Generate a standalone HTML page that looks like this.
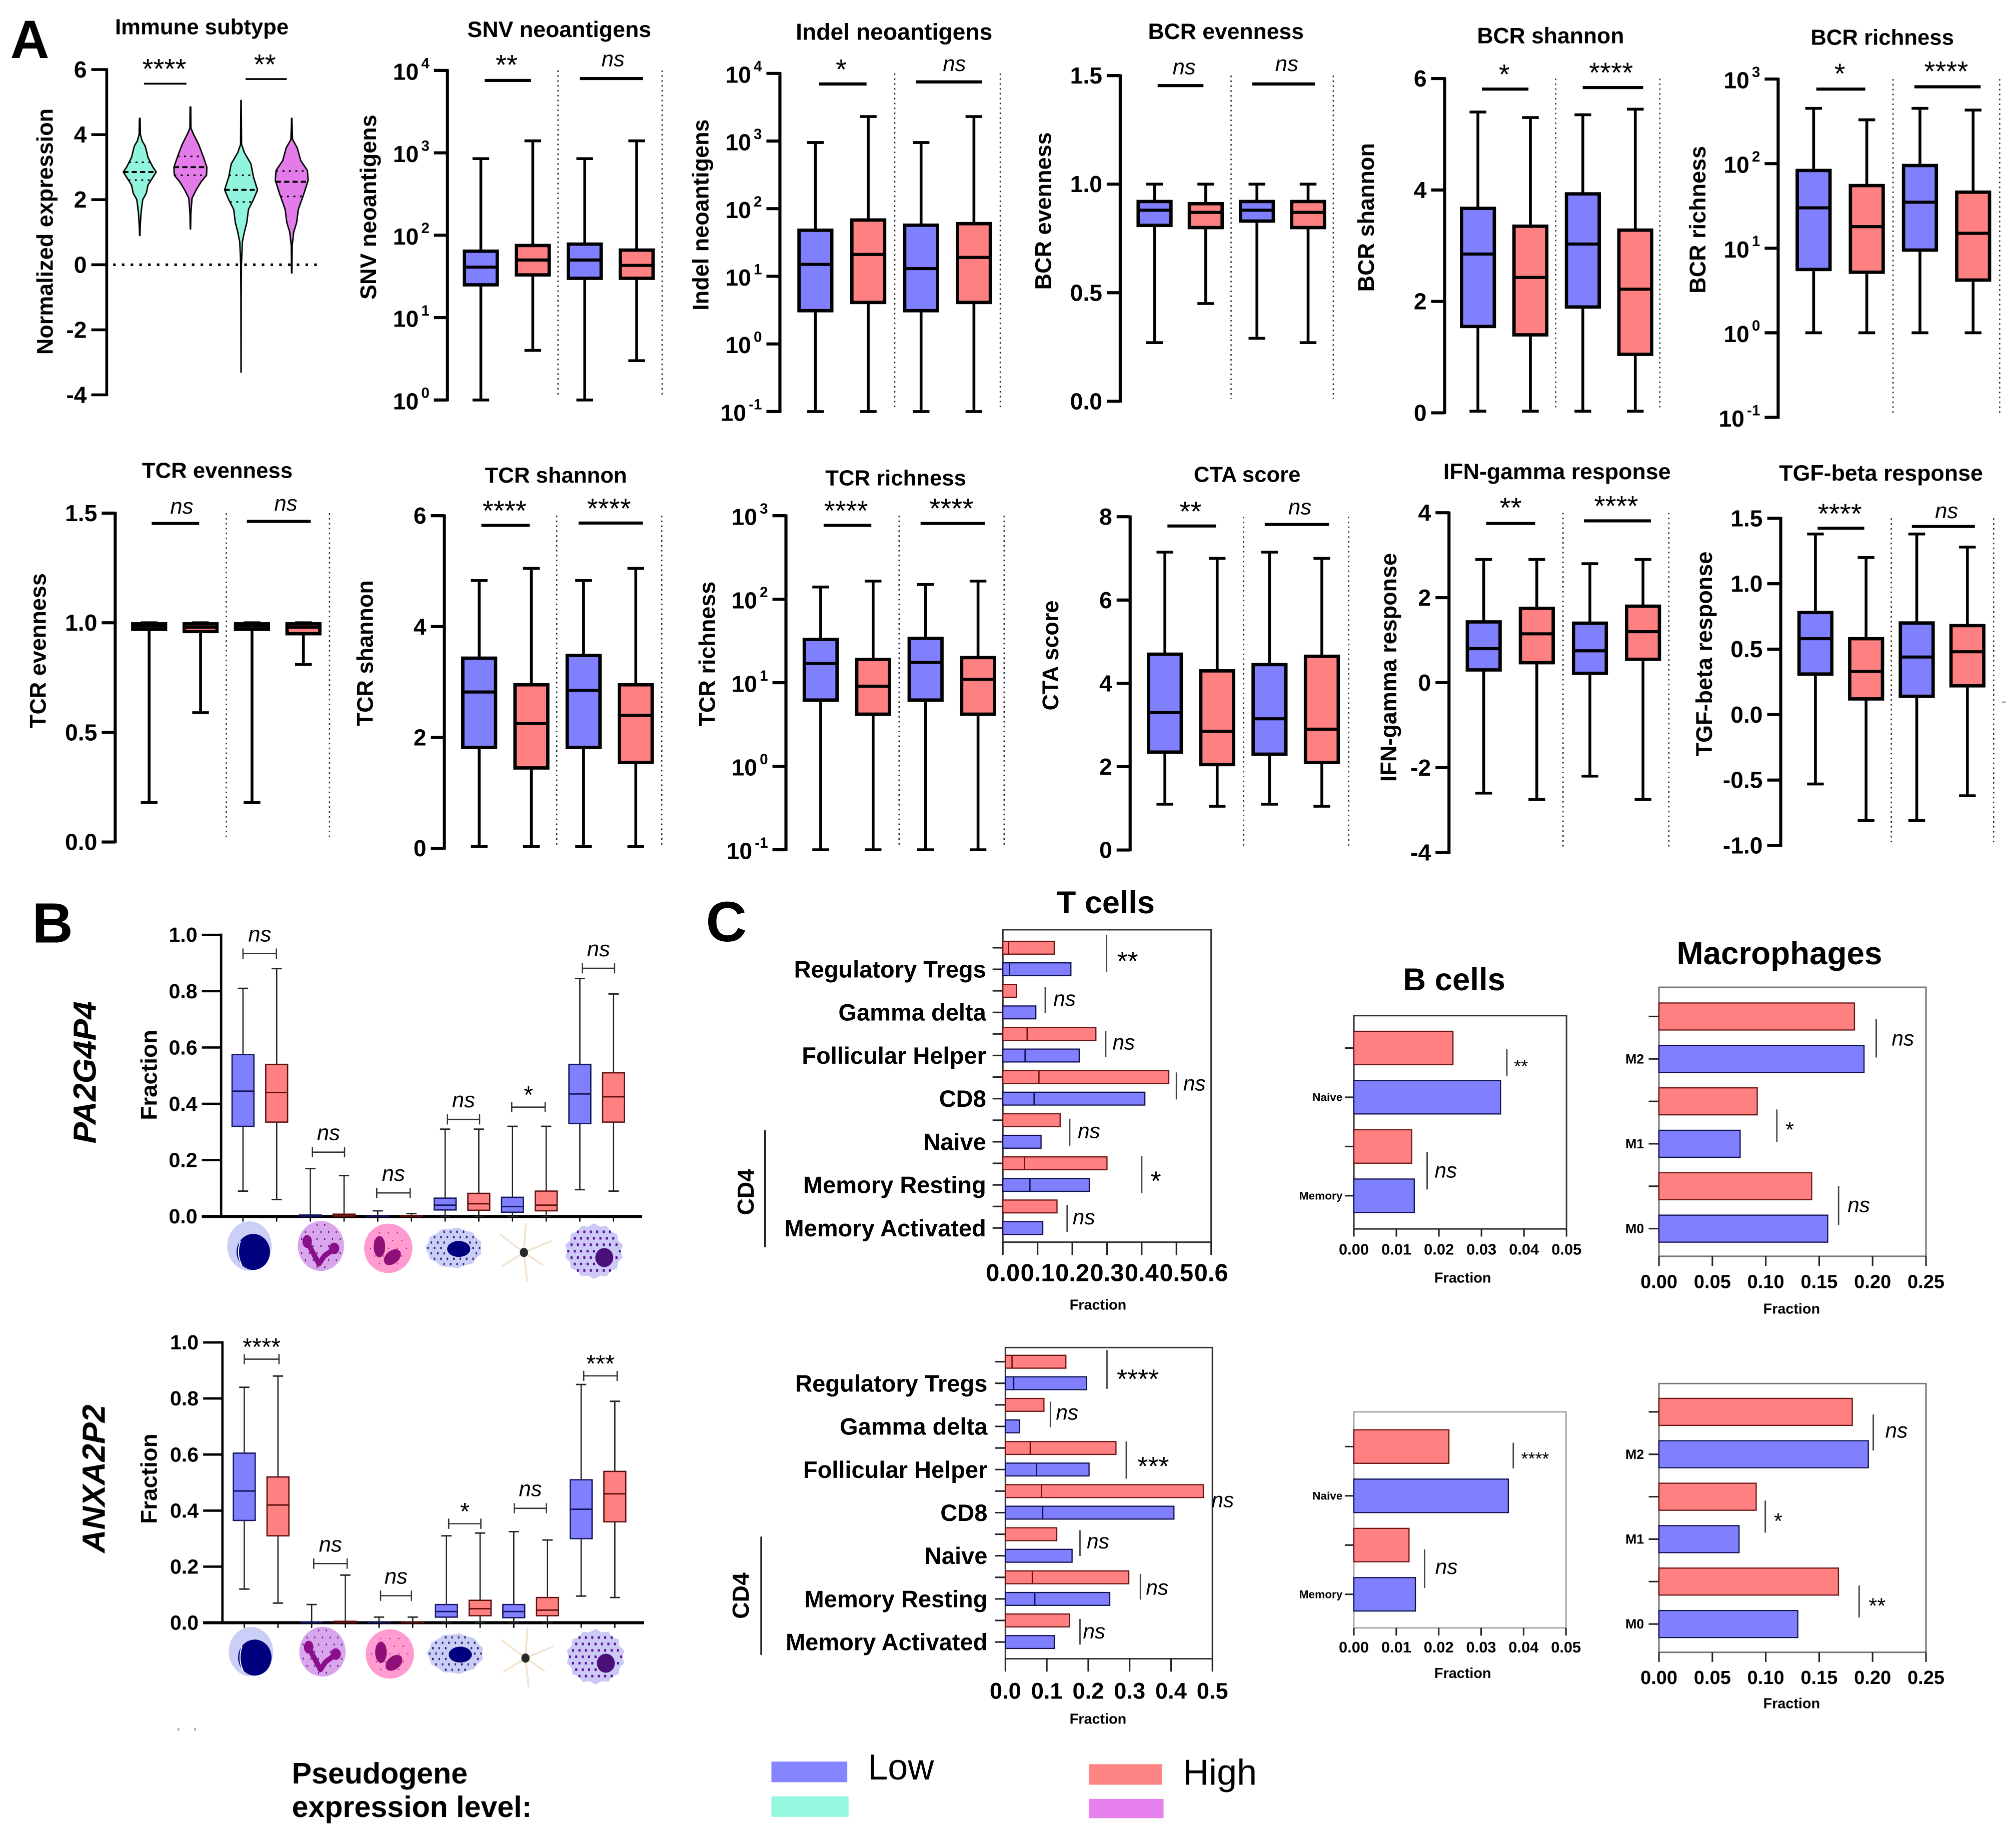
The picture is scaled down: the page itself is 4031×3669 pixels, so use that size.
<!DOCTYPE html>
<html lang="en">
<head>
<meta charset="utf-8">
<title>Pseudogene expression panels</title>
<style>
html,body{margin:0;padding:0;background:#fff;}
svg{display:block;position:absolute;left:0;top:0;}
text{font-family:"Liberation Sans",Arial,sans-serif;fill:#000;}
</style>
</head>
<body>
<svg id="figure" xmlns="http://www.w3.org/2000/svg" width="4031" height="3669" viewBox="0 0 1568 1427">
  <rect x="0" y="0" width="1568" height="1427" fill="#fff"/>
  <text x="8" y="45" font-size="42" font-weight="700">A</text>
  <text x="25" y="733" font-size="44" font-weight="700">B</text>
  <text x="549" y="732" font-size="44" font-weight="700">C</text>
  <text x="66" y="834" font-size="25" font-weight="700" font-style="italic" text-anchor="middle" dominant-baseline="central" transform="rotate(-90 66 834)">PA2G4P4</text>
  <text x="73" y="1150" font-size="25" font-weight="700" font-style="italic" text-anchor="middle" dominant-baseline="central" transform="rotate(-90 73 1150)">ANXA2P2</text>
  <rect x="138" y="1344" width="1.5" height="2" fill="#aaa"/>
  <rect x="151" y="1344" width="1.5" height="2" fill="#aaa"/>
  <rect x="1557" y="545.5" width="3" height="1" fill="#999"/>
  <g>
    <text x="227" y="1387" font-size="23" font-weight="700">Pseudogene</text>
    <text x="227" y="1413" font-size="23" font-weight="700">expression level:</text>
    <rect x="600" y="1370" width="59" height="16" fill="#8585ff"/>
    <rect x="600" y="1397" width="60" height="16" fill="#96f7df"/>
    <rect x="847" y="1372" width="57" height="16" fill="#ff8585"/>
    <rect x="847" y="1399" width="58" height="15" fill="#e680ec"/>
    <text x="675" y="1384" font-size="28">Low</text>
    <text x="920" y="1388" font-size="28">High</text>
  </g>
</svg>
<script>
/* ---------- Panel A : violin data ---------- */
const violinValuesA = [4.5,4.0,3.8,3.65,3.3,3.0,2.85,2.65,2.45,2.2,2.0,1.6,1.2,0.9];
const violinDensityA = [0.02,0.04,0.15,0.33,0.5,0.8,1,0.75,0.5,0.4,0.18,0.08,0.03,0.01];
const violinValuesB = [4.85,4.2,4.0,3.7,3.3,3.0,2.75,2.55,2.3,2.05,1.6,1.1];
const violinDensityB = [0.02,0.03,0.2,0.5,0.8,1,0.98,0.65,0.35,0.1,0.03,0.01];
const violinValuesC = [5.05,3.7,3.45,3.1,2.7,2.3,2.0,1.7,1.3,1.0,0.7,0,-1,-3.3];
const violinDensityC = [0.01,0.03,0.2,0.6,0.75,1,0.75,0.45,0.35,0.2,0.08,0.02,0.01,0.005];
const violinValuesD = [4.5,3.85,3.6,3.2,2.9,2.6,2.2,1.7,1.3,1.0,0.6,-0.25];
const violinDensityD = [0.01,0.05,0.33,0.55,0.95,1,0.75,0.4,0.3,0.12,0.03,0.01];
const violinMedians = [2.85,3.0,2.3,2.55];
const violinLowerQuartiles = [2.6,2.75,1.93,2.1];
const violinUpperQuartiles = [3.15,3.33,2.75,2.88];
const violinTicks = [6,4,2,0,-2,-4];

/* ---------- Panel A : box data, rows are [min, q1, median, q3, max] ---------- */
const snvBoxes = [[1,25,41,64,850],[4,33,50,75,1400],[1,30,50,78,850],[3,30,43,66,1400]];
const indelBoxes = [[0.1,3.1,15,48,950],[0.1,4.1,21,68,2300],[0.1,3.1,13,57,950],[0.1,4.1,19,60,2300]];
const bcrEvennessBoxes = [[0.27,0.81,0.88,0.92,1],[0.45,0.8,0.87,0.91,1],[0.29,0.83,0.88,0.92,1],[0.27,0.8,0.87,0.92,1]];
const bcrShannonBoxes = [[0.03,1.55,2.85,3.67,5.4],[0.03,1.4,2.43,3.35,5.3],[0.03,1.9,3.03,3.93,5.35],[0.03,1.05,2.22,3.28,5.45]];
const bcrRichnessBoxes = [[1,5.6,30,83,450],[1,5.2,18,55,330],[1,9.5,35,95,450],[1,4.2,15,46,430]];
const tcrEvennessBoxes = [[0.18,0.97,0.985,0.995,1],[0.59,0.96,0.98,0.995,1],[0.18,0.97,0.985,0.995,1],[0.81,0.95,0.98,0.995,1]];
const tcrShannonBoxes = [[0.03,1.82,2.82,3.43,4.83],[0.03,1.45,2.25,2.95,5.05],[0.03,1.82,2.85,3.48,4.83],[0.03,1.55,2.4,2.95,5.05]];
const tcrRichnessBoxes = [[0.1,6.2,17,33,140],[0.1,4.2,9.1,19,165],[0.1,6.2,17.5,34,150],[0.1,4.2,11,20,165]];
const ctaBoxes = [[1.1,2.35,3.3,4.7,7.15],[1.05,2.05,2.85,4.3,7],[1.1,2.3,3.15,4.45,7.15],[1.05,2.1,2.9,4.65,7]];
const ifnBoxes = [[-2.6,0.3,0.8,1.43,2.9],[-2.75,0.47,1.15,1.75,2.9],[-2.2,0.22,0.75,1.4,2.8],[-2.75,0.55,1.2,1.8,2.9]];
const tgfBoxes = [[-0.53,0.31,0.58,0.78,1.38],[-0.81,0.12,0.33,0.58,1.2],[-0.81,0.14,0.44,0.7,1.38],[-0.62,0.22,0.48,0.68,1.28]];

const logTicks4 = [1,10,100,1000,10000];
const logTicksIndel = [0.1,1,10,100,1000,10000];
const logTicks3 = [0.1,1,10,100,1000];
const evennessTicks = [0,0.5,1,1.5];
const shannonTicks = [0,2,4,6];
const ctaTicks = [0,2,4,6,8];
const ifnTicks = [-4,-2,0,2,4];
const tgfTicks = [-1,-0.5,0,0.5,1,1.5];

/* ---------- Panel B : rows are [min, q1, median, q3, max] ---------- */
const fractionTicks = [0,0.2,0.4,0.6,0.8,1];
const pa2g4p4Boxes = [[0.09,0.32,0.445,0.575,0.81],[0.06,0.335,0.44,0.54,0.88],[0,0,0.002,0.005,0.17],[0,0,0.002,0.008,0.145],[0,0,0.001,0.002,0.02],[0,0,0.001,0.002,0.01],[0,0.023,0.04,0.065,0.31],[0,0.022,0.045,0.082,0.31],[0,0.015,0.035,0.068,0.32],[0,0.02,0.04,0.09,0.32],[0.095,0.33,0.435,0.54,0.845],[0.09,0.335,0.425,0.51,0.79]];
const anxa2p2Boxes = [[0.12,0.365,0.47,0.605,0.84],[0.07,0.31,0.42,0.52,0.88],[0,0,0.001,0.003,0.065],[0,0,0.002,0.005,0.17],[0,0,0.001,0.002,0.02],[0,0,0.001,0.002,0.02],[0,0.02,0.04,0.065,0.31],[0,0.025,0.05,0.08,0.32],[0,0.018,0.04,0.065,0.325],[0,0.025,0.045,0.09,0.295],[0.095,0.3,0.405,0.51,0.85],[0.09,0.36,0.46,0.54,0.79]];

/* ---------- Panel C : bar data ---------- */
const tCellCategories = ['Regulatory Tregs','Gamma delta','Follicular Helper','CD8','Naive','Memory Resting','Memory Activated'];
const tCellTopHigh = [0.148,0.039,0.268,0.478,0.165,0.3,0.156];
const tCellTopLow = [0.196,0.095,0.22,0.409,0.11,0.249,0.115];
const tCellTopHighMedian = [0.016,0,0.07,0.104,0,0.062,0];
const tCellTopLowMedian = [0.019,0,0.064,0.09,0,0.078,0];
const tCellBottomHigh = [0.146,0.093,0.267,0.478,0.124,0.298,0.155];
const tCellBottomLow = [0.196,0.034,0.202,0.407,0.161,0.252,0.118];
const tCellBottomHighMedian = [0.016,0,0.06,0.087,0,0.065,0];
const tCellBottomLowMedian = [0.02,0,0.075,0.09,0,0.071,0];
const bCellCategories = ['Naive','Memory'];
const bCellTopHigh = [0.0233,0.0136];
const bCellTopLow = [0.0345,0.0142];
const bCellBottomHigh = [0.0224,0.013];
const bCellBottomLow = [0.0364,0.0145];
const macroCategories = ['M2','M1','M0'];
const macroTopHigh = [0.183,0.092,0.143];
const macroTopLow = [0.192,0.076,0.158];
const macroBottomHigh = [0.181,0.091,0.168];
const macroBottomLow = [0.196,0.075,0.13];
const tTicksTop = ['0.0','0.1','0.2','0.3','0.4','0.5','0.6'];
const tTicksBottom = ['0.0','0.1','0.2','0.3','0.4','0.5'];
const bTicks = ['0.00','0.01','0.02','0.03','0.04','0.05'];
const macroTicks = ['0.00','0.05','0.10','0.15','0.20','0.25'];

const BLUE = '#8080ff', RED = '#ff8080', TEAL = '#90f5dc', MAGENTA = '#e47bea';
const svg = document.getElementById('figure');
const NS = 'http://www.w3.org/2000/svg';

function make(parent, tag, attrs) {
  const e = document.createElementNS(NS, tag);
  for (const k in attrs) e.setAttribute(k, attrs[k]);
  parent.appendChild(e);
  return e;
}
function line(parent, x1, y1, x2, y2, color, w, dash) {
  const a = {x1:x1, y1:y1, x2:x2, y2:y2, stroke:color, 'stroke-width':w};
  if (dash) a['stroke-dasharray'] = dash;
  return make(parent, 'line', a);
}
function txt(parent, x, y, s, size, o) {
  o = o || {};
  const a = {x:x, y:y, 'font-size':size, 'text-anchor':o.anchor || 'middle', 'dominant-baseline':o.base || 'central'};
  if (o.bold) a['font-weight'] = 700;
  if (o.italic) a['font-style'] = 'italic';
  if (o.rot) a.transform = 'rotate(-90 ' + x + ' ' + y + ')';
  const e = make(parent, 'text', a);
  e.textContent = s;
  return e;
}
function sigLabel(parent, x, y, label, nsSize, starSize) {
  if (label === 'ns') return txt(parent, x, y - 1.5, 'ns', nsSize, {italic:true});
  return txt(parent, x, y + starSize * 0.45, label, starSize, {base:'alphabetic'});
}
function linearScale(p) {
  return function (v) {
    return p.bottom - (v - p.domain[0]) / (p.domain[1] - p.domain[0]) * (p.bottom - p.top);
  };
}
function logScale(p) {
  const a = Math.log10(p.domain[0]), b = Math.log10(p.domain[1]);
  return function (v) { return p.bottom - (Math.log10(v) - a) / (b - a) * (p.bottom - p.top); };
}

function drawYAxis(g, p, y, ticks, opts) {
  const ax = line(g, p.axisX, p.top - 1, p.axisX, p.bottom + 1, '#000', opts.axisW);
  
  
  ticks.forEach(function (t) {
    const yy = y(t);
    const tk = line(g, p.axisX - opts.tickLen, yy, p.axisX, yy, '#000', opts.axisW);
    
    
    let lab;
    if (p.log) {
      lab = txt(g, p.axisX - opts.tickLen - 3.5, yy + 1, '10', opts.fs, {bold:true, anchor:'end'});
      const sup = make(lab, 'tspan', {'font-size':11.5, dy:-6.5, dx:2});
      sup.textContent = String(Math.round(Math.log10(t)));
    } else {
      lab = txt(g, p.axisX - opts.tickLen - 3.5, yy, (opts.decimals ? t.toFixed(opts.decimals) : String(t)), opts.fs, {bold:true, anchor:'end'});
    }
    
    
  });
}

/* ---------- violin panel ---------- */
const violinLayout = {axisX:83, top:54, bottom:307, domain:[-4,6], first:108.7, step:39.4, maxHalf:12.8};
const violinSeries = [
  {vals:violinValuesA, dens:violinDensityA, color:TEAL},
  {vals:violinValuesB, dens:violinDensityB, color:MAGENTA},
  {vals:violinValuesC, dens:violinDensityC, color:TEAL},
  {vals:violinValuesD, dens:violinDensityD, color:MAGENTA}
];
function densityAt(vals, dens, v) {
  for (let i = 0; i < vals.length - 1; i++) {
    if (v <= vals[i] && v >= vals[i + 1]) {
      const f = (vals[i] - v) / (vals[i] - vals[i + 1]);
      return dens[i] + (dens[i + 1] - dens[i]) * f;
    }
  }
  return 0;
}
function drawViolinPanel() {
  const p = violinLayout, y = linearScale(p);
  const g = make(svg, 'g', {});
  
  
  const title = txt(g, 157, 21, 'Immune subtype', 17, {bold:true});
  
  
  const yt = txt(g, 35, 180, 'Normalized expression', 17.5, {bold:true, rot:true});
  
  
  drawYAxis(g, p, y, violinTicks, {axisW:2.2, tickLen:12, fs:18});
  const zero = line(g, 88, y(0), 250, y(0), '#000', 2, '2 4.8');
  
  
  violinSeries.forEach(function (s, i) {
    const cx = p.first + i * p.step;
    const left = s.vals.map(function (v, k) { return (cx - s.dens[k] * p.maxHalf) + ',' + y(v); });
    const right = s.vals.map(function (v, k) { return (cx + s.dens[k] * p.maxHalf) + ',' + y(v); }).reverse();
    const poly = make(g, 'polygon', {points:left.concat(right).join(' '), fill:s.color, stroke:'#000', 'stroke-width':1.1, 'stroke-linejoin':'round'});
    
    
    [violinMedians[i], violinLowerQuartiles[i], violinUpperQuartiles[i]].forEach(function (v, k) {
      const hw = densityAt(s.vals, s.dens, v) * p.maxHalf;
      const m = line(g, cx - hw, y(v), cx + hw, y(v), '#000', k === 0 ? 1.5 : 1.2, k === 0 ? '4 2.5' : '1.5 3.5');
      
      
    });
  });
  [[112,145,65,'****',127.8,51],[191,223,61.4,'**',206,47.6]].forEach(function (s) {
    const l = line(g, s[0], s[2], s[1], s[2], '#000', 1.4);
    
    
    const t = sigLabel(g, s[4], s[5], s[3], 17, 22);
    
    
  });
}

/* ---------- box panels (panel A) ---------- */
const boxPanels = [
  {id:'snv-neoantigens', title:'SNV neoantigens', tfs:17.4, tx:435, ty:23, yTitle:'SNV neoantigens', ytx:286.5, yty:161, axisX:348, top:54.7, bottom:311, domain:[1,10000], log:true, ticks:logTicks4, first:374, step:40.4, boxes:snvBoxes, seps:[434,515], sig:[[377,413,62.5,'**',394,48],[451,500,61,'ns',476.8,47.3]]},
  {id:'indel-neoantigens', title:'Indel neoantigens', tfs:18, tx:695.4, ty:24.6, yTitle:'Indel neoantigens', ytx:545, yty:167, axisX:606.6, top:57, bottom:320, domain:[0.1,10000], log:true, ticks:logTicksIndel, first:634.2, step:41.1, boxes:indelBoxes, seps:[695.9,778], sig:[[637,674,65.2,'*',654.3,51.4],[712.4,763.7,63.6,'ns',742.3,51]]},
  {id:'bcr-evenness', title:'BCR evenness', tfs:17.3, tx:953.5, ty:24.6, yTitle:'BCR evenness', ytx:811.5, yty:164, axisX:871.3, top:58.7, bottom:312, domain:[0,1.5], ticks:evennessTicks, decimals:1, first:898, step:39.8, boxes:bcrEvennessBoxes, seps:[957.5,1037], sig:[[900.4,936,66.5,'ns',921,53.6],[974,1022.7,65.2,'ns',1000.8,51]]},
  {id:'bcr-shannon', title:'BCR shannon', tfs:17.3, tx:1206, ty:28, yTitle:'BCR shannon', ytx:1062.5, yty:169, axisX:1123.6, top:61, bottom:321, domain:[0,6], ticks:shannonTicks, first:1149.5, step:40.8, boxes:bcrShannonBoxes, seps:[1210,1291], sig:[[1152.6,1188.8,69.2,'*',1170,55.4],[1231,1278,68,'****',1253,54]]},
  {id:'bcr-richness', title:'BCR richness', tfs:17, tx:1464, ty:29, yTitle:'BCR richness', ytx:1320.5, yty:170.8, axisX:1383, top:61.4, bottom:324.5, domain:[0.1,1000], log:true, ticks:logTicks3, first:1410.6, step:41.35, boxes:bcrRichnessBoxes, seps:[1472.4,1555.3], sig:[[1412.7,1450.8,69.2,'*',1431,54.7],[1489,1540.5,67.4,'****',1513.7,53]]},
  {id:'tcr-evenness', title:'TCR evenness', tfs:17, tx:169, ty:366, yTitle:'TCR evenness', ytx:29.5, yty:506, axisX:89.6, top:399, bottom:654.8, domain:[0,1.5], ticks:evennessTicks, decimals:1, first:116, step:40, boxes:tcrEvennessBoxes, seps:[176,256.3], sig:[[118,154.9,407,'ns',141.4,395.3],[192,241.7,405.4,'ns',222.3,393]]},
  {id:'tcr-shannon', title:'TCR shannon', tfs:17, tx:432.4, ty:369.6, yTitle:'TCR shannon', ytx:284, yty:508, axisX:345.6, top:401, bottom:659.7, domain:[0,6], ticks:shannonTicks, first:372.7, step:40.6, boxes:tcrShannonBoxes, seps:[433,514.7], sig:[[374.4,412,408.5,'****',392.4,394.7],[450,500,406.7,'****',473.7,393]]},
  {id:'tcr-richness', title:'TCR richness', tfs:17, tx:696.7, ty:371.7, yTitle:'TCR richness', ytx:550, yty:508.5, axisX:611.3, top:401, bottom:660.8, domain:[0.1,1000], log:true, ticks:logTicks3, first:638.3, step:40.8, boxes:tcrRichnessBoxes, seps:[699.3,781], sig:[[640.6,677.7,408.5,'****',658,394.7],[716,766,407,'****',740,393]]},
  {id:'cta-score', title:'CTA score', tfs:17, tx:970, ty:369, yTitle:'CTA score', ytx:817, yty:509.7, axisX:879, top:401.8, bottom:661, domain:[0,8], ticks:ctaTicks, first:906, step:40.7, boxes:ctaBoxes, seps:[967.3,1049], sig:[[908,945.7,409,'**',926,395.3],[983.7,1033.7,407.8,'ns',1011,395.8]]},
  {id:'ifn-gamma-response', title:'IFN-gamma response', tfs:17.4, tx:1211, ty:367, yTitle:'IFN-gamma response', ytx:1080, yty:519, axisX:1127, top:398.7, bottom:663, domain:[-4,4], ticks:ifnTicks, first:1154, step:41.3, boxes:ifnBoxes, seps:[1215.7,1298], sig:[[1156,1194,407,'**',1175,392.4],[1232,1284,405,'****',1257,391]]},
  {id:'tgf-beta-response', title:'TGF-beta response', tfs:17.4, tx:1463, ty:368, yTitle:'TGF-beta response', ytx:1325.5, yty:508.5, axisX:1385, top:403, bottom:657.5, domain:[-1,1.5], ticks:tgfTicks, decimals:1, first:1412, step:39.4, boxes:tgfBoxes, seps:[1471,1550.6], sig:[[1413.7,1450,410.7,'****',1431,397],[1487,1536,409.4,'ns',1514,398.7]]}
];
function drawBoxPanel(p) {
  const y = p.log ? logScale(p) : linearScale(p);
  const g = make(svg, 'g', {});
  
  
  const title = txt(g, p.tx, p.ty, p.title, p.tfs, {bold:true});
  
  
  const yt = txt(g, p.ytx, p.yty, p.yTitle, 17.5, {bold:true, rot:true});
  
  
  drawYAxis(g, p, y, p.ticks, {axisW:2.4, tickLen:10.5, fs:18, decimals:p.decimals});
  p.seps.forEach(function (sx) {
    const s = line(g, sx, p.top, sx, p.bottom - 2, '#222', 1, '1.2 2.6');
    
    
  });
  const w = 25.5, cap = 13;
  p.boxes.forEach(function (b, i) {
    const cx = p.first + i * p.step;
    const bg = make(g, 'g', {});
    
    
    line(bg, cx, y(b[4]), cx, y(b[0]), '#000', 2.2);
    line(bg, cx - cap / 2, y(b[4]), cx + cap / 2, y(b[4]), '#000', 2.2);
    line(bg, cx - cap / 2, y(b[0]), cx + cap / 2, y(b[0]), '#000', 2.2);
    make(bg, 'rect', {x:cx - w / 2, y:y(b[3]), width:w, height:Math.max(y(b[1]) - y(b[3]), 0.5), fill:i % 2 ? RED : BLUE, stroke:'#000', 'stroke-width':2.6});
    line(bg, cx - w / 2, y(b[2]), cx + w / 2, y(b[2]), '#000', 2.4);
  });
  p.sig.forEach(function (s) {
    const l = line(g, s[0], s[2], s[1], s[2], '#000', 2.4);
    
    
    const t = sigLabel(g, s[4], s[5], s[3], 17, 22);
    
    
  });
}

/* ---------- panel B ---------- */
const fractionPanels = [
  {id:'pa2g4p4-fraction', axisX:172, top:727, bottom:946, domain:[0,1], first:189, step:26.2, xEnd:499.5, axisStart:157, boxes:pa2g4p4Boxes, ytx:116, yty:836, iconDx:0, iconDy:0,
   sig:[[189,215,741.6,'ns'],[243,268,896,'ns'],[293,319,927.7,'ns'],[348,373,870.5,'ns'],[398,424,861,'*'],[453,478,753,'ns']]},
  {id:'anxa2p2-fraction', axisX:173, top:1044, bottom:1262, domain:[0,1], first:190, step:26.2, xEnd:501, axisStart:158, boxes:anxa2p2Boxes, ytx:116, yty:1150, iconDx:1.2, iconDy:315.5,
   sig:[[190,217,1057,'****'],[244,270,1216,'ns'],[296,320,1241,'ns'],[349,374,1185,'*'],[400,425,1173,'ns'],[454,480,1070,'***']]}
];
function drawFractionPanel(p) {
  const y = linearScale(p);
  const g = make(svg, 'g', {});
  
  
  const yt = txt(g, p.ytx, p.yty, 'Fraction', 17.8, {bold:true, rot:true});
  
  
  drawYAxis(g, p, y, fractionTicks, {axisW:1.8, tickLen:15, fs:16, decimals:1});
  const base = line(g, p.axisStart, p.bottom, p.xEnd, p.bottom, '#000', 2.4);
  
  
  const w = 17, cap = 8;
  p.boxes.forEach(function (b, i) {
    const cx = p.first + i * p.step;
    const high = i % 2 === 1;
    const edge = high ? '#5c0d0d' : '#14145e';
    const tk = line(g, cx, p.bottom, cx, p.bottom + 4, '#000', 1);
    
    
    const bg = make(g, 'g', {});
    
    
    line(bg, cx, y(b[4]), cx, y(b[0]), '#222', 1);
    line(bg, cx - cap / 2, y(b[4]), cx + cap / 2, y(b[4]), '#222', 1.1);
    line(bg, cx - cap / 2, y(b[0]), cx + cap / 2, y(b[0]), '#222', 1.1);
    make(bg, 'rect', {x:cx - w / 2, y:y(b[3]), width:w, height:Math.max(y(b[1]) - y(b[3]), 0.3), fill:high ? RED : BLUE, stroke:edge, 'stroke-width':1});
    line(bg, cx - w / 2, y(b[2]), cx + w / 2, y(b[2]), edge, 1.1);
  });
  p.sig.forEach(function (s) {
    const br = make(g, 'path', {d:'M' + s[0] + ' ' + (s[2] - 4) + 'V' + (s[2] + 4) + 'M' + s[0] + ' ' + s[2] + 'H' + s[1] + 'M' + s[1] + ' ' + (s[2] - 4) + 'V' + (s[2] + 4), fill:'none', stroke:'#333', 'stroke-width':1});
    
    
    const t = sigLabel(g, (s[0] + s[1]) / 2, s[2] - (s[3] === 'ns' ? 13.5 : 11.5), s[3], 17, 19);
    
    
  });
  drawCells(g, p.iconDx, p.iconDy);
}
function jagged(cx, cy, rx, ry, n, depth) {
  const pts = [];
  for (let i = 0; i < n; i++) {
    const a = i / n * Math.PI * 2, f = i % 2 ? 1 : 1 - depth;
    pts.push((cx + Math.cos(a) * rx * f) + ',' + (cy + Math.sin(a) * ry * f));
  }
  return pts.join(' ');
}
function dots(parent, cx, cy, rx, ry, sx, sy, w, h, color, hole) {
  for (let r = -8; r <= 8; r++) {
    for (let k = -8; k <= 8; k++) {
      const dx = k * sx + (r % 2 ? sx / 2 : 0), dy = r * sy;
      if ((dx * dx) / (rx * rx) + (dy * dy) / (ry * ry) > 0.82) continue;
      if (hole && (cx + dx - hole[0]) * (cx + dx - hole[0]) / (hole[2] * hole[2]) + (cy + dy - hole[1]) * (cy + dy - hole[1]) / (hole[3] * hole[3]) < 1) continue;
      make(parent, 'rect', {x:cx + dx - w / 2, y:cy + dy - h / 2, width:w, height:h, fill:color});
    }
  }
}
function drawCells(g, dx, dy) {
  const c = make(g, 'g', {transform:'translate(' + dx + ' ' + dy + ')'});
  
  
  /* lymphocyte */
  make(c, 'ellipse', {cx:194, cy:969, rx:17.3, ry:19.2, fill:'#cbcff7'});
  make(c, 'ellipse', {cx:197, cy:973.6, rx:13, ry:14, fill:'#00007f'});
  make(c, 'path', {d:'M187 965 Q183.5 975 188 984', fill:'none', stroke:'#fff', 'stroke-width':0.8});
  /* basophil */
  make(c, 'ellipse', {cx:249.6, cy:969, rx:18, ry:19.4, fill:'#d9a6ee'});
  dots(c, 249.6, 969, 18, 19.4, 6, 5.5, 0.9, 1.5, '#5a2a80');
  make(c, 'path', {d:'M239 966 L246.5 980 L248 983 L252 977 L260 971', fill:'none', stroke:'#8b0f8b', 'stroke-width':4, 'stroke-linejoin':'round', 'stroke-linecap':'round'});
  make(c, 'ellipse', {cx:238.9, cy:965.5, rx:3.7, ry:5, fill:'#8b0f8b'});
  make(c, 'ellipse', {cx:259.9, cy:970.9, rx:4, ry:4.5, fill:'#8b0f8b'});
  /* eosinophil */
  make(c, 'ellipse', {cx:302, cy:970.8, rx:18.8, ry:19.2, fill:'#ff9bd0'});
  dots(c, 302, 970.8, 18.8, 19.2, 7, 6, 0.7, 0.9, '#7a1060');
  make(c, 'ellipse', {cx:295.1, cy:969.5, rx:4.5, ry:8.3, fill:'#8e0f78'});
  make(c, 'ellipse', {cx:305.2, cy:977.7, rx:7.5, ry:5, fill:'#8e0f78', transform:'rotate(-40 305.2 977.7)'});
  /* monocyte */
  make(c, 'polygon', {points:jagged(353, 970.5, 22.3, 16, 22, 0.07), fill:'#cacdf6'});
  dots(c, 353, 970.5, 22.3, 16, 5, 4.2, 1.2, 1.7, '#262670', [356.8, 971.3, 10.5, 7.5]);
  make(c, 'ellipse', {cx:356.8, cy:971.3, rx:9, ry:6.2, fill:'#00007f'});
  /* dendritic cell */
  const armEnds = [[409,951],[429,965],[422.4,984],[410,996.7],[390,985],[389,960]];
  armEnds.forEach(function (a) { line(c, 407.5, 974, a[0], a[1], '#f3e4d2', 1.5); });
  make(c, 'ellipse', {cx:407.5, cy:974, rx:3.2, ry:3.6, fill:'#2a2a2a'});
  /* macrophage */
  make(c, 'polygon', {points:jagged(462, 973, 23, 21.7, 28, 0.1), fill:'#cdc9f6'});
  dots(c, 462, 973, 23, 21.7, 5, 5, 1.6, 2, '#5a109a', [470, 978, 8.5, 9]);
  make(c, 'ellipse', {cx:470, cy:978, rx:7, ry:7.4, fill:'#4a0f78'});
}

/* ---------- panel C ---------- */
const barPanels = [
  {id:'t-cells-top', title:'T cells', tx:860, ty:702, tfs:24.5, left:780, right:942, top:723, bottom:966, xMax:0.6, ticks:tTicksTop, tickLen:10, tickY:990, tickFs:19, fracX:854, fracY:1015, fracFs:11.2, first:737, step:16.77, barH:10, cats:tCellCategories, high:tCellTopHigh, low:tCellTopLow, highMed:tCellTopHighMedian, lowMed:tCellTopLowMedian, labelX:767, labelFs:18.3, frame:'#333', tickL:8,
   sig:[[860.6,727,756,'**',877,745],[813,767.5,788,'ns',828,778],[860,802,822,'ns',874,812],[915,834,855,'ns',929,844],[832,870,891,'ns',847,881],[888,899,928,'*',899,916],[830,937,958,'ns',843,948]], cd4:[595,879,970,580,927]},
  {id:'t-cells-bottom', left:782, right:943, top:1048, bottom:1290, xMax:0.5, ticks:tTicksBottom, tickLen:10, tickY:1315, tickFs:17.6, fracX:854, fracY:1337, fracFs:11.2, first:1059, step:16.77, barH:10, cats:tCellCategories, high:tCellBottomHigh, low:tCellBottomLow, highMed:tCellBottomHighMedian, lowMed:tCellBottomLowMedian, labelX:768, labelFs:18.3, frame:'#333', tickL:8,
   sig:[[861,1050,1080,'****',885,1070],[817,1090,1110,'ns',830,1100],[876,1121,1150,'***',897,1138],[null,0,0,'ns',951,1168],[840,1190,1210,'ns',854,1200],[887,1224,1244,'ns',900,1236],[840,1259,1279,'ns',851,1270]], cd4:[592,1195,1287,576,1241]},
  {id:'b-cells-top', title:'B cells', tx:1131, ty:762, tfs:24.7, left:1053, right:1218.4, top:789.8, bottom:955.7, xMax:0.05, ticks:bTicks, tickLen:6, tickY:971.6, tickFs:12, fracX:1137.7, fracY:994, fracFs:11.2, first:815, step:38.3, barH:26, cats:bCellCategories, high:bCellTopHigh, low:bCellTopLow, labelX:1044.2, labelFs:8.8, frame:'#333', tickL:7,
   sig:[[1172,816,837,'**',1183,827.7,14],[1110,896,925,'ns',1124.5,911.7]]},
  {id:'b-cells-bottom', left:1053, right:1218, top:1098, bottom:1266, xMax:0.05, ticks:bTicks, tickLen:6, tickY:1281, tickFs:12, fracX:1137.7, fracY:1301.5, fracFs:11.2, first:1125, step:38.3, barH:26, cats:bCellCategories, high:bCellBottomHigh, low:bCellBottomLow, labelX:1044.2, labelFs:8.8, frame:'#aaa', tickL:7,
   sig:[[1177,1122,1142,'****',1194,1133,14],[1108,1205,1235,'ns',1125,1220]]},
  {id:'macrophages-top', title:'Macrophages', tx:1384, ty:741.4, tfs:24.8, left:1290.3, right:1498, top:767.8, bottom:977, xMax:0.25, ticks:macroTicks, tickLen:7.5, tickY:997, tickFs:14.8, fracX:1393.5, fracY:1018, fracFs:11.2, first:790.5, step:33, barH:21, cats:macroCategories, high:macroTopHigh, low:macroTopLow, labelX:1278.7, labelFs:10.4, frame:'#777', tickL:8,
   sig:[[1459.3,792.4,822.4,'ns',1480,809],[1382,862.8,888,'*',1392,876.7,17],[1430,922.4,952.7,'ns',1445.7,938.4]]},
  {id:'macrophages-bottom', left:1290.3, right:1498, top:1076, bottom:1285, xMax:0.25, ticks:macroTicks, tickLen:7.5, tickY:1305, tickFs:14.8, fracX:1393.5, fracY:1325, fracFs:11.2, first:1098, step:33, barH:21, cats:macroCategories, high:macroBottomHigh, low:macroBottomLow, labelX:1278.7, labelFs:10.4, frame:'#777', tickL:8,
   sig:[[1457,1100,1128,'ns',1475,1114],[1373,1167,1192,'*',1383,1181,17],[1446,1233,1258,'**',1460,1247,17]]}
];
function drawBarPanel(p) {
  const x = function (v) { return p.left + v / p.xMax * (p.right - p.left); };
  const g = make(svg, 'g', {});
  
  
  if (p.title) {
    const t = txt(g, p.tx, p.ty, p.title, p.tfs, {bold:true});
    
    
  }
  const fr = make(g, 'rect', {x:p.left, y:p.top, width:p.right - p.left, height:p.bottom - p.top, fill:'none', stroke:p.frame, 'stroke-width':1.2});
  
  
  p.ticks.forEach(function (label, i) {
    const tx = p.left + i * (p.right - p.left) / (p.ticks.length - 1);
    const tk = line(g, tx, p.bottom, tx, p.bottom + p.tickLen, '#222', 1.2);
    
    
    const lb = txt(g, tx, p.tickY, label, p.tickFs, {bold:true});
    
    
  });
  const xt = txt(g, p.fracX, p.fracY, 'Fraction', p.fracFs, {bold:true});
  
  
  p.cats.forEach(function (cat, i) {
    const yHigh = p.first + 2 * i * p.step, yLow = yHigh + p.step;
    [[yHigh, p.high[i], p.highMed ? p.highMed[i] : 0, RED, '#6a1212', 'high'],
     [yLow, p.low[i], p.lowMed ? p.lowMed[i] : 0, BLUE, '#10104f', 'low']].forEach(function (b) {
      const tk = line(g, p.left - p.tickL, b[0], p.left, b[0], '#222', 1.2);
      
      
      const bar = make(g, 'rect', {x:p.left, y:b[0] - p.barH / 2, width:x(b[1]) - p.left, height:p.barH, fill:b[3], stroke:b[4], 'stroke-width':0.9});
      
      
      if (b[2] > 0) {
        const m = line(g, x(b[2]), b[0] - p.barH / 2, x(b[2]), b[0] + p.barH / 2, b[4], 1);
        
        
      }
    });
    const lab = txt(g, p.labelX, yLow, cat, p.labelFs, {bold:true, anchor:'end'});
    
    
  });
  p.sig.forEach(function (s) {
    if (s[0] !== null) {
      const l = line(g, s[0], s[1], s[0], s[2], '#444', 1.1);
      
      
    }
    const t = sigLabel(g, s[4], s[5], s[3], 16.5, s[6] || 21);
    
    
  });
  if (p.cd4) {
    const l = line(g, p.cd4[0], p.cd4[1], p.cd4[0], p.cd4[2], '#111', 1.2);
    
    
    const t = txt(g, p.cd4[3], p.cd4[4], 'CD4', 18, {bold:true, rot:true});
    
    
  }
}

drawViolinPanel();
boxPanels.forEach(drawBoxPanel);
fractionPanels.forEach(drawFractionPanel);
barPanels.forEach(drawBarPanel);
</script>
</body>
</html>
